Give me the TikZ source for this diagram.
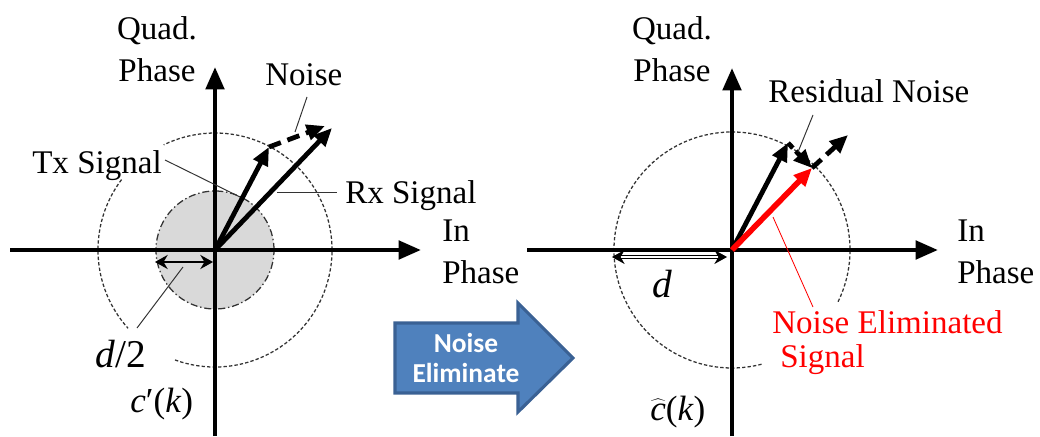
\documentclass[tikz,border=0pt]{standalone}
\usepackage{fontspec}
\setmainfont{LiberationSerif}[Extension=.ttf, UprightFont=*-Regular, ItalicFont=*-Italic, BoldFont=*-Bold, BoldItalicFont=*-BoldItalic]
\newfontfamily\calfont{Carlito}
\usetikzlibrary{arrows.meta, calc}
\definecolor{boxblue}{HTML}{4F81BD}
\definecolor{boxedge}{HTML}{3A6194}

\begin{document}
\begin{tikzpicture}[
    x=0.025cm, y=0.025cm,
    axis/.style={line width=3.2pt, -{Triangle[length=16pt, width=13pt]}},
    vec/.style={line width=3.4pt, -{Triangle[length=13pt, width=11pt]}},
    noisevec/.style={vec, dash pattern=on 9pt off 5pt},
    ring/.style={line width=0.9pt, black!80, dash pattern=on 2.4pt off 1.5pt},
    disc/.style={line width=0.9pt, draw=black!80, fill=black!15, dash pattern=on 5pt off 2pt on 1pt off 2pt},
    lead/.style={line width=0.7pt, black!80},
    lbl/.style={font=\fontsize{23.5}{30}\selectfont, inner sep=0pt},
    big/.style={font=\fontsize{28}{32}\selectfont, inner sep=0pt},
    sym/.style={font=\fontsize{25}{28}\selectfont, inner sep=0pt, anchor=base west},
    span/.style={line width=2pt, {Stealth[length=9pt, width=10pt]}-{Stealth[length=9pt, width=10pt]}},
    hollowspan/.style={line width=0.8pt, double=white, double distance=1.4pt, {Stealth[length=9pt, width=10pt]}-{Stealth[length=9pt, width=10pt]}},
]
\useasboundingbox (0,0) rectangle (1040,436);

% ── Left plane: received signal ──
\coordinate (O1) at (215,186);
\draw[disc] (O1) circle[radius=59];
\draw[ring] (O1) ++(-110:117) arc[start angle=-110, end angle=116, radius=117];
\draw[ring] (O1) ++(143:117) arc[start angle=143, end angle=222, radius=117];

\coordinate (xl1) at (10,186);
\coordinate (xr1) at (421,186);
\coordinate (yb1) at (215,0);
\coordinate (yt1) at (215,369);
\draw[axis] (xl1) -- (xr1);
\draw[axis] (yb1) -- (yt1);

\coordinate (Tx1) at ($(O1)+(54,103)$);
\coordinate (Rx1) at ($(O1)+(117,122)$);
\coordinate (Nz1) at ($(O1)+(110,124)$);
\draw[vec] (O1) -- (Tx1);
\draw[vec] (O1) -- (Rx1);
\draw[noisevec] (Tx1) -- (Nz1);

\coordinate (hl1) at (155,174);
\coordinate (hr1) at (213,174);
\draw[span] (hl1) -- (hr1);

% labels
\node[lbl, align=center] (QP1) at (157,387) {Quad.\\Phase};
\node[lbl, anchor=base west] (noise1) at (265,351) {Noise};
\node[lbl, anchor=base west] (tx1) at (32,263) {Tx Signal};
\node[lbl, anchor=base west] (rx1) at (345,233) {Rx Signal};
\node[lbl, align=left, anchor=west] (IP1) at (442,184) {In\\Phase};
\node[big, anchor=base west] (half) at (95,69) {\textit{d}/2};
\node[sym] (cp) at (130,24) {\textit{c}′(\textit{k})};

% leaders
\coordinate (nA) at (307,339); \coordinate (nB) at (295,304);
\coordinate (tA) at (165,276); \coordinate (tB) at (240,239);
\coordinate (rA) at (277,244); \coordinate (rB) at (337,244);
\coordinate (dA) at (137,108); \coordinate (dB) at (183,169);
\draw[lead] (nA) -- (nB);
\draw[lead] (tA) -- (tB);
\draw[lead] (rA) -- (rB);
\draw[lead] (dA) -- (dB);

% ── Block arrow ──
\draw[fill=boxblue, draw=boxedge, line width=2.2pt, line join=miter]
    (395,113) -- (518,113) -- (518,133) -- (573,78) -- (518,24) -- (518,43) -- (395,43) -- cycle;
\node[font=\calfont\bfseries\fontsize{19.5}{22}\selectfont, text=white, align=center, inner sep=0pt] (elim) at (466,78) {Noise\\Eliminate};

% ── Right plane: after elimination ──
\coordinate (O2) at (732,186);
\draw[ring] (O2) ++(-26:118) arc[start angle=-26, end angle=285, radius=118];

\coordinate (xl2) at (527,186);
\coordinate (xr2) at (938,186);
\coordinate (yb2) at (732,0);
\coordinate (yt2) at (732,368);
\draw[axis] (xl2) -- (xr2);
\draw[axis] (yb2) -- (yt2);

\coordinate (Tx2) at ($(O2)+(56,107)$);
\coordinate (Ne2) at ($(O2)+(80,82)$);
\coordinate (Rs2) at ($(O2)+(116,115)$);
\draw[vec] (O2) -- (Tx2);
\draw[noisevec] (Ne2) -- (Rs2);
\draw[noisevec, dash pattern=on 5pt off 3pt] (Tx2) -- (Ne2);
\draw[vec, red, line width=4pt] (O2) -- (Ne2);

\coordinate (hl2) at (612,179);
\coordinate (hr2) at (727,179);
\draw[hollowspan] (hl2) -- (hr2);

% labels
\node[lbl, align=center] (QP2) at (672,387) {Quad.\\Phase};
\node[lbl, anchor=base west] (resid) at (768,333) {Residual Noise};
\node[lbl, align=left, anchor=west] (IP2) at (957,184) {In\\Phase};
\node[big, anchor=base west] (dist) at (652,139) {\textit{d}};
\node[lbl, anchor=base west, text=red] (ne1) at (772,103) {Noise Eliminated};
\node[lbl, anchor=base west, text=red] (ne2) at (780,69) {Signal};
\node[sym] (chat) at (650,16) {$\widehat{\textit{c}}$(\textit{k})};

% leaders
\coordinate (sA) at (813,321); \coordinate (sB) at (798,284);
\coordinate (eA) at (773,219); \coordinate (eB) at (813,129);
\draw[lead] (sA) -- (sB);
\draw[lead, red, line width=0.6pt] (eA) -- (eB);

\end{tikzpicture}
\end{document}
